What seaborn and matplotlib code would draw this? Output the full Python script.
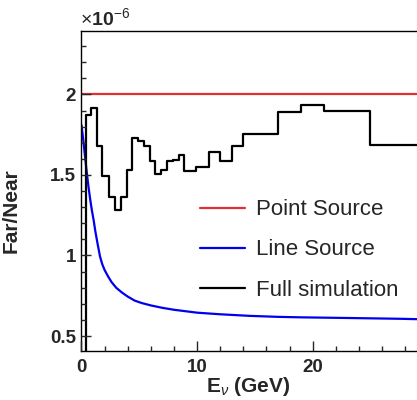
import numpy as np
import pandas as pd
import matplotlib
matplotlib.use("Agg")
import matplotlib.pyplot as plt
import seaborn as sns
from matplotlib.ticker import MultipleLocator, FuncFormatter

# Full simulation histogram (bin edges in GeV, Far/Near ratio in units of 1e-6)
bin_edges = [0.4, 0.8, 1.3, 1.75, 2.35, 2.9, 3.4, 3.9, 4.4, 4.9, 5.4, 5.9, 6.4, 6.9,
             7.4, 7.9, 8.4, 8.9, 9.9, 11, 12, 13, 14, 15, 17, 19, 21, 25, 30]
full_sim = [1.87, 1.917, 1.678, 1.496, 1.363, 1.284, 1.363, 1.533, 1.73, 1.71,
            1.678, 1.585, 1.508, 1.533, 1.589, 1.595, 1.622, 1.527, 1.55, 1.643,
            1.585, 1.683, 1.752, 1.757, 1.894, 1.936, 1.9, 1.689]

# Line source curve
line_e = [0, 0.15, 0.3, 0.45, 0.6, 0.75, 0.9, 1.05, 1.2, 1.4, 1.6, 1.8, 2.0, 2.3,
          2.6, 3.0, 3.5, 4.0, 4.6, 5.2, 6.0, 7.0, 8.0, 9.0, 10, 12, 14.6, 17, 19,
          23, 27.6, 30]
line_src = [1.81, 1.72, 1.62, 1.52, 1.43, 1.35, 1.28, 1.22, 1.15, 1.07, 0.995, 0.945,
            0.91, 0.87, 0.835, 0.8, 0.77, 0.745, 0.72, 0.705, 0.69, 0.675, 0.663,
            0.654, 0.645, 0.635, 0.625, 0.619, 0.616, 0.612, 0.607, 0.603]

# Point source (flat)
point_e = [0, 30]
point_src = [2.0, 2.0]

sns.set_style("ticks")
plt.rcParams['font.family'] = ['Liberation Sans', 'DejaVu Sans']
plt.rcParams['mathtext.fontset'] = 'custom'
plt.rcParams['mathtext.rm'] = 'Liberation Sans'
plt.rcParams['mathtext.it'] = 'Liberation Sans:italic'
plt.rcParams['mathtext.bf'] = 'Liberation Sans:bold'

fig = plt.figure(figsize=(4.17, 4.0), dpi=100)
ax = fig.add_axes([0.1954, 0.1225, 0.8317, 0.8])

# step data for the histogram
hx = [bin_edges[0]] + bin_edges
hy = [0] + full_sim + [full_sim[-1]]
hist_df = pd.DataFrame({"E": hx, "ratio": hy})

sns.lineplot(x=point_e, y=point_src, ax=ax, color="#e3302f", lw=1.6,
             label="Point Source")
sns.lineplot(x=line_e, y=line_src, ax=ax, color="#0000ee", lw=1.6,
             label="Line Source")
sns.lineplot(data=hist_df, x="E", y="ratio", ax=ax, color="black", lw=1.6,
             drawstyle="steps-post", estimator=None, sort=False,
             label="Full simulation")

ax.set_xlim(0, 30)
ax.set_ylim(0.407, 2.394)
ax.xaxis.set_major_locator(MultipleLocator(10))
ax.xaxis.set_minor_locator(MultipleLocator(2))
ax.yaxis.set_major_locator(MultipleLocator(0.5))
ax.yaxis.set_minor_locator(MultipleLocator(0.1))
ax.xaxis.set_major_formatter(FuncFormatter(lambda v, p: '' if v > 25 else '%g' % v))
ax.yaxis.set_major_formatter(FuncFormatter(lambda v, p: '%g' % v))
ax.tick_params(which='both', direction='in', top=False, right=False,
               labelsize=13.5, width=1)
ax.tick_params(which='major', length=7)
ax.tick_params(which='minor', length=3.6)
for lab in ax.get_xticklabels() + ax.get_yticklabels():
    lab.set_fontweight('bold')
ax.tick_params(axis='x', pad=6)
ax.tick_params(axis='y', pad=4)
ax.set_axisbelow(False)
for s in ax.spines.values():
    s.set_linewidth(1.0)
    s.set_color('black')

ax.set_xlabel(r"E$_{\nu}$ (GeV)", fontsize=15, fontweight='bold')
ax.xaxis.set_label_coords(0.48, -0.075)
ax.set_ylabel("Far/Near", fontsize=15, fontweight='bold')
ax.yaxis.set_label_coords(-0.175, 0.44)

fig.text(0.192, 0.955, r"$\times$10$^{-6}$", fontsize=14, fontweight='bold',
         ha='left', va='center')

ax.legend(loc='upper left', bbox_to_anchor=(0.342, 0.474), frameon=False,
          fontsize=16, handlelength=2.0, handletextpad=0.5, labelspacing=0.86,
          borderpad=0, borderaxespad=0)

fig.savefig("out.png", dpi=100)
